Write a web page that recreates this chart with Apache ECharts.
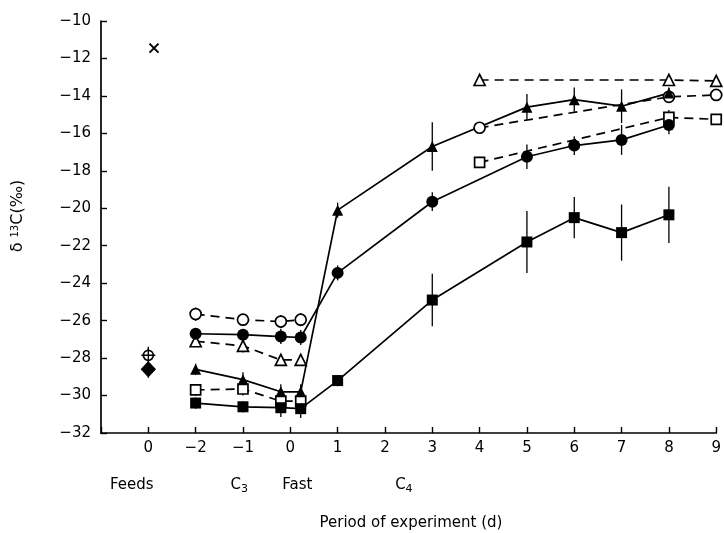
<!DOCTYPE html>
<html>
<head>
<meta charset="utf-8">
<script src="https://cdn.jsdelivr.net/npm/echarts@6/dist/echarts.min.js"></script>
<style>
  html, body { margin: 0; padding: 0; background: #fff; }
  #chart { width: 724px; height: 533px; }
</style>
</head>
<body>
<div id="chart"></div>
<script>
// x positions (days); feeds column is drawn at -3, the two fast samples either side of 0
var xMain = [-2, -1, -0.2, 0.22, 1, 3, 5, 6, 7, 8];
var xOpen = [-2, -1, -0.2, 0.22, 2, 4, 8, 9];   // 2 = break in the line

// filled symbols, solid lines
var sqFilled    = [-30.4, -30.6, -30.65, -30.7, -29.2, -24.9, -21.8, -20.5, -21.3, -20.35];
var sqFilledErr = [0.3, 0.3, 0.5, 0.5, 0.3, 1.4, 1.65, 1.1, 1.5, 1.5];
var ciFilled    = [-26.7, -26.75, -26.85, -26.9, -23.45, -19.65, -17.25, -16.65, -16.35, -15.55];
var ciFilledErr = [0.3, 0.3, 0.4, 0.4, 0.4, 0.5, 0.65, 0.5, 0.8, 0.5];
var trFilled    = [-28.6, -29.15, -29.8, -29.8, -20.1, -16.7, -14.6, -14.2, -14.55, -13.85];
var trFilledErr = [0.3, 0.4, 0.4, 0.4, 0.4, 1.3, 0.7, 0.65, 0.9, 0.3];

// open symbols, dashed lines ('-' = gap)
var ciOpen    = [-25.65, -25.95, -26.05, -25.95, '-', -15.7, -14.05, -13.95];
var ciOpenErr = [0.35, 0.3, 0.35, 0.35, 0, 0.2, 0.2, 0.2];
var trOpen    = [-27.1, -27.35, -28.1, -28.1, '-', -13.15, -13.15, -13.2];
var trOpenErr = [0.3, 0.35, 0.3, 0.3, 0, 0.2, 0.25, 0.2];
var sqOpen    = [-29.7, -29.65, -30.3, -30.3, '-', -17.55, -15.15, -15.25];
var sqOpenErr = [0.3, 0.35, 0.3, 0.3, 0, 0.3, 0.4, 0.2];

// feeds
var feedX = -3;
var feedCross = -27.85;
var feedDiamond = -28.6;
var feedTimes = [-2.88, -11.45];

var yTicks = [-32, -10, 2];
var phaseLabels = ['Feeds', 'C{s|3}', 'Fast', 'C{s|4}'];
var phasePos = [-3.35, -1.08, 0.15, 2.4];

var FONT = 'DejaVu Sans';

function minus(v) {
  return String(v).replace('-', '\u2212');
}
function pairs(xs, ys) {
  var out = [];
  for (var i = 0; i < xs.length; i++) out.push([xs[i], ys[i]]);
  return out;
}
function bars(xs, ys, es) {
  var out = [];
  for (var i = 0; i < xs.length; i++) {
    if (ys[i] === '-') continue;
    out.push([xs[i], ys[i] - es[i], ys[i] + es[i]]);
  }
  return out;
}

var lineStyleSolid = { color: '#000', width: 1.7 };
var lineStyleDash = { color: '#000', width: 1.7, type: [9, 6] };
var openItem = { color: '#fff', borderColor: '#000', borderWidth: 1.7, opacity: 1 };
var fillItem = { color: '#000', opacity: 1 };

function errSeries(data) {
  return {
    type: 'custom',
    z: 1,
    silent: true,
    data: data,
    encode: { x: 0, y: [1, 2] },
    renderItem: function (params, api) {
      var a = api.coord([api.value(0), api.value(1)]);
      var b = api.coord([api.value(0), api.value(2)]);
      return {
        type: 'line',
        shape: { x1: a[0], y1: a[1], x2: b[0], y2: b[1] },
        style: { stroke: '#000', lineWidth: 1.3 }
      };
    }
  };
}

function lineSeries(xs, ys, symbol, size, item, ls) {
  return {
    type: 'line',
    z: 3,
    data: pairs(xs, ys),
    symbol: symbol,
    symbolSize: size,
    showAllSymbol: true,
    connectNulls: false,
    itemStyle: item,
    lineStyle: ls,
    animation: false
  };
}

var myChart = echarts.init(document.getElementById('chart'));

var option = {
  animation: false,
  grid: { left: 101, right: 7, top: 21, bottom: 100 },
  xAxis: {
    type: 'value',
    min: -4, max: 9, interval: 1,
    splitLine: { show: false },
    axisLine: { onZero: false, lineStyle: { color: '#000', width: 1.7 } },
    axisTick: { inside: true, length: 6, lineStyle: { color: '#000', width: 1.4 } },
    axisLabel: {
      color: '#000', fontFamily: FONT, fontSize: 15, margin: 8,
      formatter: function (v) {
        if (v === -4) return '';
        if (v === -3) return '0';
        return minus(v);
      }
    }
  },
  yAxis: {
    type: 'value',
    min: yTicks[0], max: yTicks[1], interval: yTicks[2],
    splitLine: { show: false },
    axisLine: { onZero: false, lineStyle: { color: '#000', width: 1.7 } },
    axisTick: { inside: true, length: 6, lineStyle: { color: '#000', width: 1.4 } },
    axisLabel: {
      color: '#000', fontFamily: FONT, fontSize: 15, margin: 10,
      formatter: function (v) { return minus(v); }
    }
  },
  series: [
    errSeries(bars(xMain, sqFilled, sqFilledErr)),
    errSeries(bars(xMain, ciFilled, ciFilledErr)),
    errSeries(bars(xMain, trFilled, trFilledErr)),
    errSeries(bars(xOpen, ciOpen, ciOpenErr)),
    errSeries(bars(xOpen, trOpen, trOpenErr)),
    errSeries(bars(xOpen, sqOpen, sqOpenErr)),
    errSeries([[feedX, feedCross - 0.45, feedCross + 0.45], [feedX, feedDiamond - 0.45, feedDiamond + 0.35]]),
    lineSeries(xOpen, ciOpen, 'circle', 11, openItem, lineStyleDash),
    lineSeries(xOpen, trOpen, 'triangle', 11, openItem, lineStyleDash),
    lineSeries(xOpen, sqOpen, 'rect', 10, openItem, lineStyleDash),
    lineSeries(xMain, sqFilled, 'rect', 11, fillItem, lineStyleSolid),
    lineSeries(xMain, ciFilled, 'circle', 12, fillItem, lineStyleSolid),
    lineSeries(xMain, trFilled, 'triangle', 11, fillItem, lineStyleSolid),
    {
      type: 'scatter', z: 4,
      data: [[feedX, feedCross]],
      symbol: 'circle', symbolSize: 10,
      itemStyle: openItem
    },
    {
      type: 'scatter', z: 5,
      data: [[feedX, feedCross]],
      symbol: 'path://M5,0L5,10M0,5L10,5', symbolSize: 14,
      itemStyle: { color: 'none', borderColor: '#000', borderWidth: 1.4, opacity: 1 }
    },
    {
      type: 'scatter', z: 4,
      data: [[feedX, feedDiamond]],
      symbol: 'diamond', symbolSize: [14, 15],
      itemStyle: { color: '#000', borderColor: '#000', borderWidth: 1, opacity: 1 }
    },
    {
      type: 'scatter', z: 4,
      data: [feedTimes],
      symbol: 'path://M0,0L10,10M10,0L0,10', symbolSize: 9,
      itemStyle: { color: 'none', borderColor: '#000', borderWidth: 2, opacity: 1 }
    }
  ]
};
myChart.setOption(option);

// phase labels under the axis, placed through the x scale
var graphics = [];
for (var i = 0; i < phaseLabels.length; i++) {
  var px = myChart.convertToPixel({ xAxisIndex: 0 }, phasePos[i]);
  graphics.push({
    type: 'text', x: px, y: 485,
    style: {
      text: phaseLabels[i], x: 0, y: 0, align: 'center', verticalAlign: 'middle',
      fill: '#000', font: '15px "DejaVu Sans"',
      rich: { s: { fontSize: 11, fontFamily: FONT, verticalAlign: 'bottom', padding: [8, 0, 0, 0] } }
    }
  });
}
graphics.push({
  type: 'text', x: 411, y: 523,
  style: {
    text: 'Period of experiment (d)', align: 'center', verticalAlign: 'middle',
    fill: '#000', font: '15px "DejaVu Sans"'
  }
});
graphics.push({
  type: 'text', x: 18, y: 216, rotation: Math.PI / 2,
  style: {
    text: '\u03b4 {s|13}C(\u2030)', align: 'center', verticalAlign: 'middle',
    fill: '#000', font: '16px "DejaVu Sans"',
    rich: { s: { fontSize: 10, fontFamily: FONT, verticalAlign: 'top', padding: [0, 0, 6, 0] } }
  }
});
myChart.setOption({ graphic: graphics });
</script>
</body>
</html>
